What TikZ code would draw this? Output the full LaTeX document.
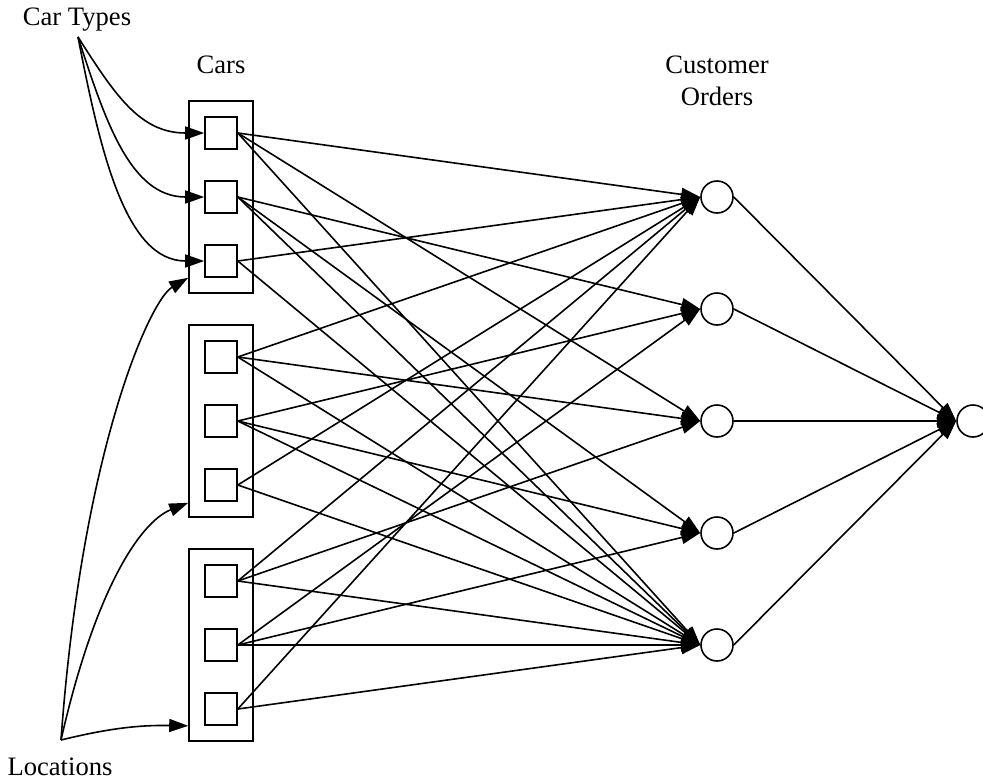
\documentclass[tikz,border=0pt]{standalone}
\usepackage{fontspec}
\setmainfont{Liberation Serif}
\usetikzlibrary{arrows.meta}
\begin{document}
\begin{tikzpicture}[x=1pt,y=-1pt,
  line width=1.6pt,
  lbl/.style={font=\fontsize{26.6}{32}\selectfont, anchor=base, inner sep=0pt},
  car/.style={draw, minimum size=32pt, inner sep=0pt},
  pool/.style={draw, minimum width=64pt, minimum height=192pt, inner sep=0pt},
  order/.style={draw, circle, minimum size=32pt, inner sep=0pt},
  arc/.style={-{Triangle[length=19pt,width=13pt]}},
]
\useasboundingbox (0,0) rectangle (983,782);

% labels
\node[lbl] (cartypes) at (77,25) {Car Types};
\node[lbl] (cars) at (221,73) {Cars};
\node[lbl] (customer) at (717,73) {Customer};
\node[lbl] (orders) at (717,105) {Orders};
\node[lbl] (locations) at (60,775) {Locations};
\coordinate (ct) at (78,37);
\coordinate (loc) at (61,740);

% car pools by location
\node[pool] (P1) at (221,197) {};
\node[pool] (P2) at (221,421) {};
\node[pool] (P3) at (221,645) {};

% cars
\foreach \i/\y in {1/133,2/197,3/261,4/357,5/421,6/485,7/581,8/645,9/709}
  \node[car] (S\i) at (221,\y) {};

% customer orders
\foreach \i/\y in {1/197,2/309,3/421,4/533,5/645}
  \node[order] (O\i) at (717,\y) {};
\node[order] (F) at (973,421) {};

% car types to cars
\draw[arc] (ct) .. controls (115,95) and (140,133) .. (S1.west);
\draw[arc] (ct) .. controls (105,120) and (130,197) .. (S2.west);
\draw[arc] (ct) .. controls (100,150) and (125,261) .. (S3.west);

% locations to pools
\draw[arc] (loc) .. controls (82,450) and (150,300) .. ([yshift=16pt]P1.south west);
\draw[arc] (loc) .. controls (95,590) and (140,522) .. ([yshift=15pt]P2.south west);
\draw[arc] (loc) .. controls (110,728) and (140,725) .. ([yshift=16pt]P3.south west);

% cars to orders
\foreach \s/\o in {1/1,1/3,1/5,2/2,2/4,2/5,3/1,3/5,
                   4/1,4/3,4/5,5/2,5/4,5/5,6/1,6/5,
                   7/1,7/3,7/5,8/2,8/4,8/5,9/1,9/5}
  \draw[arc] (S\s.east) -- (O\o.west);

% orders to sink
\foreach \o in {1,...,5}
  \draw[arc] (O\o.east) -- (F.west);
\end{tikzpicture}
\end{document}
